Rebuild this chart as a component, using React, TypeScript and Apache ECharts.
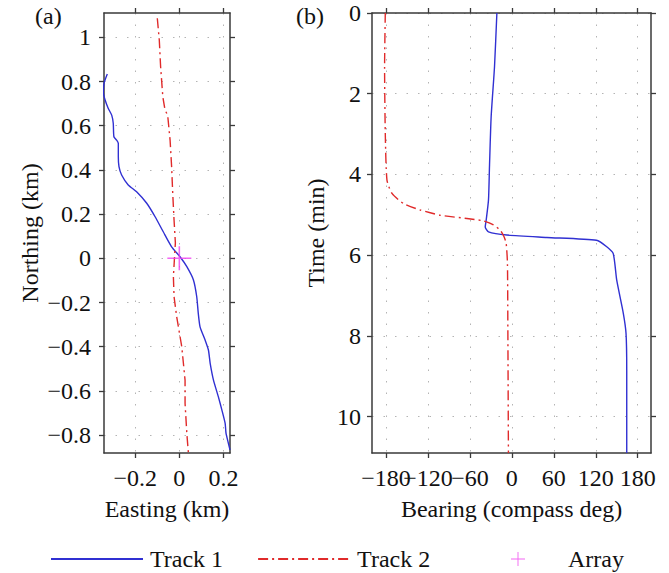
import React, { useEffect, useRef } from 'react';
import * as echarts from 'echarts';

// Panel (a): track positions (km)
const track1Easting = [-0.327, -0.342, -0.345, -0.337, -0.323, -0.307, -0.300, -0.297, -0.285, -0.277, -0.277, -0.274, -0.262, -0.232, -0.194, -0.148, -0.110, -0.073, -0.035, 0.003, 0.034, 0.064, 0.079, 0.086, 0.094, 0.117, 0.132, 0.140, 0.155, 0.177, 0.193, 0.208, 0.212, 0.230];
const track1Northing = [0.834, 0.792, 0.750, 0.716, 0.679, 0.648, 0.611, 0.550, 0.535, 0.520, 0.460, 0.415, 0.377, 0.332, 0.301, 0.249, 0.188, 0.120, 0.052, 0.007, -0.038, -0.098, -0.174, -0.249, -0.310, -0.370, -0.415, -0.475, -0.551, -0.626, -0.686, -0.747, -0.792, -0.867];
const track2Easting = [-0.100, -0.091, -0.085, -0.075, -0.065, -0.053, -0.042, -0.035, -0.030, -0.024, -0.018, -0.027, -0.024, -0.012, 0.011, 0.026, 0.026, 0.034, 0.041];
const track2Northing = [1.086, 0.988, 0.867, 0.731, 0.671, 0.648, 0.535, 0.414, 0.294, 0.173, 0.070, -0.083, -0.174, -0.264, -0.400, -0.551, -0.656, -0.792, -0.880];
const arrayEasting = [0];
const arrayNorthing = [0];

// Panel (b): bearing (compass deg) versus time (min)
const track1Time = [0.0, 1.33, 2.57, 3.81, 4.63, 5.13, 5.30, 5.42, 5.50, 5.56, 5.63, 5.79, 5.96, 6.62, 7.44, 7.94, 8.85, 10.9];
const track1Bearing = [-21.4, -24.8, -29.6, -32.0, -33.4, -36.7, -38.1, -33.4, -7.1, 50, 121, 135.7, 145, 150, 159.4, 163.3, 164.3, 164.3];
const track2Time = [0.0, 1.33, 2.98, 4.14, 4.47, 4.72, 4.88, 5.01, 5.09, 5.15, 5.25, 5.38, 5.55, 5.71, 6.2, 7.86, 10.9];
const track2Bearing = [-181, -182, -181, -178.6, -171.4, -154.9, -131, -102.4, -64.3, -40.6, -26.3, -16.7, -11, -8.1, -6.3, -5.7, -4.9];

// Tick values
const eastingTicks = [-0.2, 0, 0.2];
const northingTicks = [-0.8, -0.6, -0.4, -0.2, 0, 0.2, 0.4, 0.6, 0.8, 1];
const bearingTicks = [-180, -120, -60, 0, 60, 120, 180];
const timeTicks = [0, 2, 4, 6, 8, 10];
const legendNames = ['Track 1', 'Track 2', 'Array'];

const FONT = "'Liberation Serif', 'DejaVu Serif', serif";
const AX = '#3a3a3a';
const BLUE = '#3030d2';
const RED = '#e02a2a';
const MAGENTA = '#f040f0';
const GRIDC = '#b4b4b4';
const PLUS = 'path://M9.35,0H10.65V9.35H20V10.65H10.65V20H9.35V10.65H0V9.35H9.35Z';

const zip = (a: number[], b: number[]) => a.map((v, i) => [v, b[i]]);
const fmt = (v: number) => {
  const s = String(Number(v.toFixed(2)));
  return s.replace('-', '\u2212');
};

const FS = 24;
const textStyle = { fontFamily: FONT, fontSize: FS, color: '#111' };

function mainAxis(position: string, min: number, max: number, ticks: number[], labels: number[] | null, name: string, margin: number, nameGap: number, gridIndex: number, inverse = false) {
  return {
    type: 'value', gridIndex, position, min, max, inverse,
    name, nameLocation: 'middle', nameGap,
    nameTextStyle: { ...textStyle },
    axisLine: { show: true, onZero: false, lineStyle: { color: AX, width: 1.5 } },
    axisTick: { show: true, inside: false, length: 5, customValues: ticks, lineStyle: { color: AX, width: 1.3 } },
    axisLabel: { show: true, customValues: labels || ticks, formatter: fmt, margin, interval: 0, hideOverlap: false, ...textStyle },
    splitLine: { show: true, lineStyle: { color: GRIDC, width: 1, type: [1.5, 10] } },
  };
}
function sideAxis(position: string, min: number, max: number, ticks: number[], gridIndex: number, inverse = false) {
  return {
    type: 'value', gridIndex, position, min, max, inverse,
    axisLine: { show: true, onZero: false, lineStyle: { color: AX, width: 1.5 } },
    axisTick: { show: true, inside: false, length: 5, customValues: ticks, lineStyle: { color: AX, width: 1.3 } },
    axisLabel: { show: false },
    splitLine: { show: false },
  };
}
// extra label-only axis so that neighbouring labels that touch (as in the original) are both kept
function labelAxis(position: string, min: number, max: number, labels: number[], margin: number, gridIndex: number) {
  return {
    type: 'value', gridIndex, position, min, max, offset: 0,
    axisLine: { show: false, onZero: false },
    axisTick: { show: false, customValues: labels },
    axisLabel: { show: true, customValues: labels, formatter: fmt, margin, interval: 0, hideOverlap: false, ...textStyle },
    splitLine: { show: false },
  };
}

export default function App() {
  const ref = useRef<HTMLDivElement>(null);
  useEffect(() => {
    if (!ref.current) return;
    const chart = echarts.init(ref.current, undefined, { renderer: 'svg' });
    const e0 = -0.342, e1 = 0.23, n0 = -0.881, n1 = 1.11;
    const b0 = -200, b1 = 199, t0 = 0, t1 = 10.9;
    const bearingLabelsA = bearingTicks.filter((_, i) => i % 2 === 0);
    const bearingLabelsB = bearingTicks.filter((_, i) => i % 2 === 1);
    chart.setOption({
      animation: false,
      backgroundColor: '#fff',
      grid: [
        { left: 104, right: 439, top: 13, bottom: 120, containLabel: false },
        { left: 372, right: 18, top: 13, bottom: 120, containLabel: false },
      ],
      xAxis: [
        mainAxis('bottom', e0, e1, eastingTicks, null, 'Easting (km)', 13, 44, 0),
        sideAxis('top', e0, e1, eastingTicks, 0),
        mainAxis('bottom', b0, b1, bearingTicks, bearingLabelsA, 'Bearing (compass deg)', 13, 44, 1),
        sideAxis('top', b0, b1, bearingTicks, 1),
        labelAxis('bottom', b0, b1, bearingLabelsB, 13, 1),
      ],
      yAxis: [
        mainAxis('left', n0, n1, northingTicks, null, 'Northing (km)', 13, 62, 0),
        sideAxis('right', n0, n1, northingTicks, 0),
        mainAxis('left', t0, t1, timeTicks, null, 'Time (min)', 11, 44, 1, true),
        sideAxis('right', t0, t1, timeTicks, 1, true),
      ],
      legend: [
        {
          left: 45, top: 542, itemWidth: 92, itemHeight: 14, itemGap: 34,
          data: [
            { name: legendNames[0], itemStyle: { opacity: 0 } },
            { name: legendNames[1], itemStyle: { opacity: 0 } },
          ],
          textStyle: { ...textStyle, padding: [0, 0, 0, 2] },
        },
        {
          left: 506, top: 542, itemWidth: 14, itemHeight: 14,
          data: [legendNames[2]],
          textStyle: { ...textStyle, padding: [0, 0, 0, 38] },
        },
      ],
      graphic: [
        { type: 'text', left: 35, top: 4, style: { text: '(a)', fill: '#111', font: `${FS}px ${FONT}` } },
        { type: 'text', left: 296, top: 4, style: { text: '(b)', fill: '#111', font: `${FS}px ${FONT}` } },
      ],
      series: [
        {
          name: 'Track 1', type: 'line', xAxisIndex: 0, yAxisIndex: 0,
          data: zip(track1Easting, track1Northing), symbol: 'none', showSymbol: false, smooth: 0.2,
          lineStyle: { color: BLUE, width: 1.4 }, itemStyle: { color: BLUE },
        },
        {
          name: 'Track 2', type: 'line', xAxisIndex: 0, yAxisIndex: 0,
          data: zip(track2Easting, track2Northing), symbol: 'none', showSymbol: false,
          lineStyle: { color: RED, width: 1.4, type: [10, 4, 2, 4] }, itemStyle: { color: RED },
        },
        {
          name: 'Array', type: 'scatter', xAxisIndex: 0, yAxisIndex: 0,
          data: zip(arrayEasting, arrayNorthing), symbol: PLUS, symbolSize: 24,
          itemStyle: { color: MAGENTA }, z: 5,
        },
        {
          name: 'Track 1', type: 'line', xAxisIndex: 2, yAxisIndex: 2,
          data: zip(track1Bearing, track1Time), symbol: 'none', showSymbol: false, smooth: 0.2,
          lineStyle: { color: BLUE, width: 1.4 }, itemStyle: { color: BLUE },
        },
        {
          name: 'Track 2', type: 'line', xAxisIndex: 2, yAxisIndex: 2,
          data: zip(track2Bearing, track2Time), symbol: 'none', showSymbol: false, smooth: 0.2,
          lineStyle: { color: RED, width: 1.4, type: [10, 4, 2, 4] }, itemStyle: { color: RED },
        },
      ],
    });
    return () => chart.dispose();
  }, []);
  return <div ref={ref} style={{ position: 'fixed', left: 0, top: 0, width: 669, height: 573 }} />;
}
